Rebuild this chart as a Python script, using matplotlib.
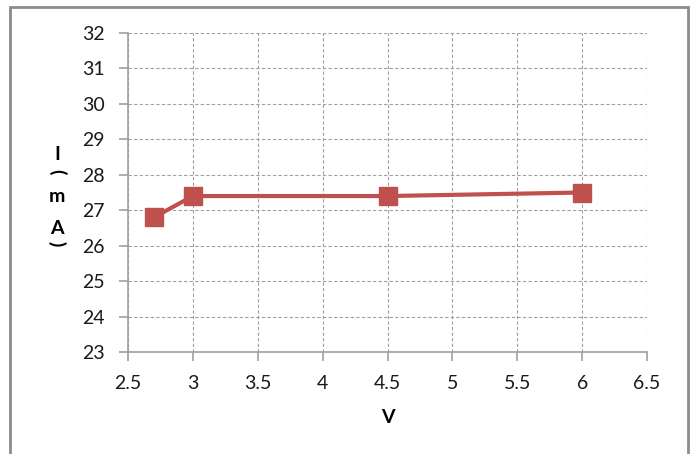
import matplotlib.pyplot as plt
from matplotlib.patches import Rectangle

# data
voltage = [2.7, 3.0, 4.5, 6.0]
current = [26.8, 27.4, 27.4, 27.5]
x_ticks = [2.5, 3, 3.5, 4, 4.5, 5, 5.5, 6, 6.5]
y_ticks = [23, 24, 25, 26, 27, 28, 29, 30, 31, 32]

plt.rcParams['font.family'] = ['Lato', 'DejaVu Sans']

fig = plt.figure(figsize=(6.93, 4.54), dpi=100)
ax = fig.add_axes([128 / 693, 1 - 352 / 454, (647 - 128) / 693, (352 - 33) / 454])

# outer chart border
fig.patches.append(Rectangle((10 / 693, -0.05), (688 - 10) / 693, 1.05 - 7 / 454,
                             transform=fig.transFigure, fill=False,
                             edgecolor='#8c8c8c', linewidth=2))

ax.plot(voltage, current, color='#C0504D', linewidth=3, marker='s',
        markersize=13, markeredgecolor='#C0504D', zorder=3)

ax.set_xlim(2.5, 6.5)
ax.set_ylim(23, 32)
ax.set_xticks(x_ticks)
ax.set_xticklabels(['2.5', '3', '3.5', '4', '4.5', '5', '5.5', '6', '6.5'])
ax.set_yticks(y_ticks)
ax.grid(True, linestyle=(0, (3, 2)), color='#a0a0a0', linewidth=0.8)
ax.set_axisbelow(True)

for s in ['top', 'right']:
    ax.spines[s].set_visible(False)
for s in ['left', 'bottom']:
    ax.spines[s].set_color('#a0a0a0')
    ax.spines[s].set_linewidth(1.2)
ax.tick_params(direction='out', length=6.5, color='#a0a0a0', width=1.2,
               labelsize=14, labelcolor='#1a1a1a', pad=10)

ax.set_xlabel('V', fontsize=14, fontweight='bold', labelpad=12)

# stacked vertical y label
label_chars = [('I', 0, 155), ('(', -90, 172), ('m', 0, 196), ('A', 0, 228), (')', -90, 244)]
for ch, rot, ypix in label_chars:
    fig.text(57 / 693, 1 - ypix / 454, ch, fontsize=14, fontweight='bold',
             rotation=rot, ha='center', va='center')

plt.savefig('out.png')
